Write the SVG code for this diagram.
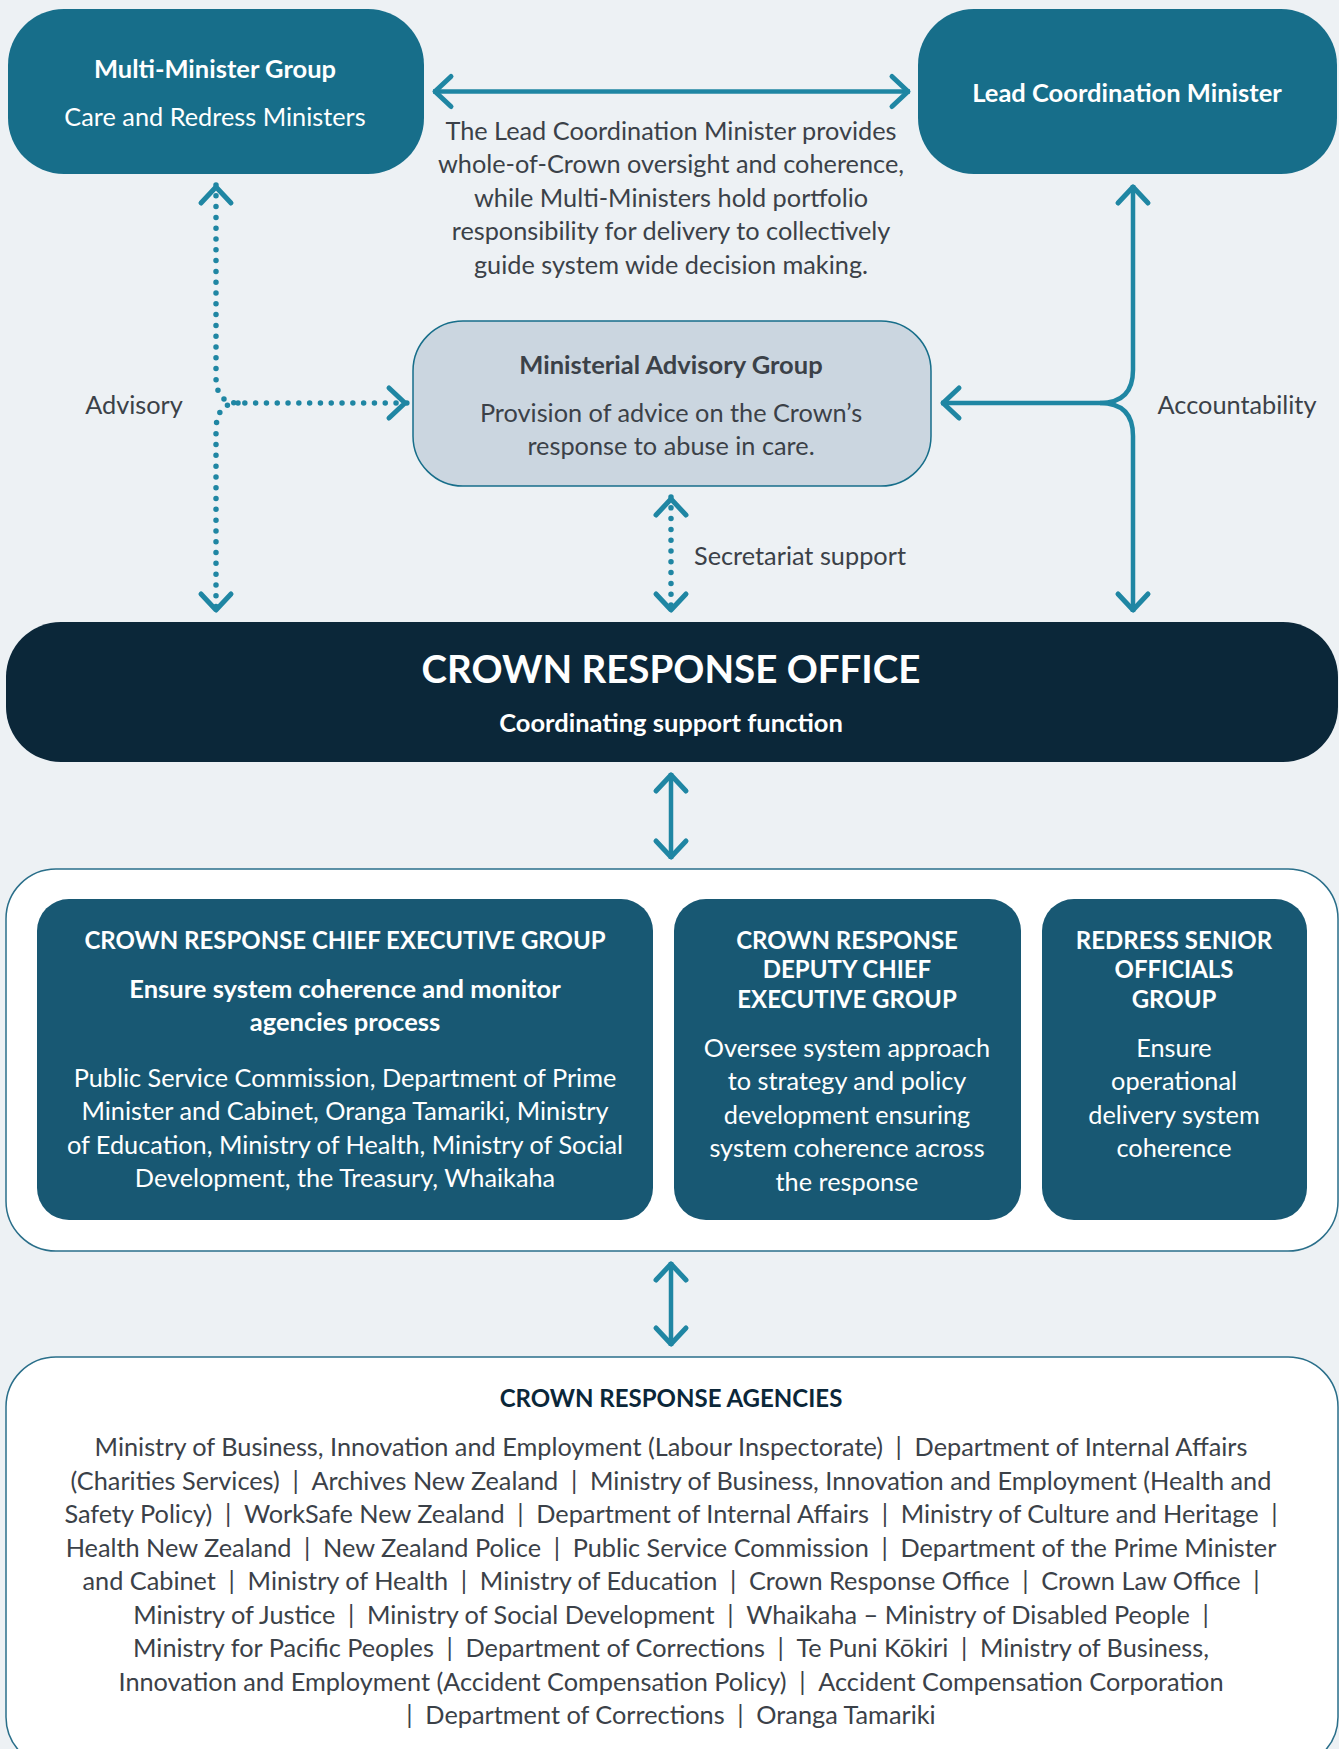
<svg xmlns="http://www.w3.org/2000/svg" width="1339" height="1749" viewBox="0 0 1339 1749">
<style>
text{font-family:Lato,"Source Sans Pro","Liberation Sans",sans-serif;text-anchor:middle}
.w{fill:#ffffff}
.b{font-weight:700}
.g{fill:#3B4148}
.body{font-size:25.3px}
.bt{font-size:25.5px;font-weight:700}
.head{font-size:24px;font-weight:700;fill:#ffffff}
.ln{fill:none;stroke:#1F86A3;stroke-width:4.5}
.dot{fill:none;stroke:#1F86A3;stroke-width:5.5;stroke-linecap:round;stroke-dasharray:0 10.8}
.teal{fill:#176E8A}
.inner{fill:#185873}
</style>
<defs>
<marker id="chev" viewBox="-24 -20 32 40" markerWidth="32" markerHeight="40" markerUnits="userSpaceOnUse" refX="2" refY="0" orient="auto-start-reverse">
<path d="M-16,-15 L0,0 L-16,15" fill="none" stroke="#1F86A3" stroke-width="5" stroke-linecap="round" stroke-linejoin="round"/>
</marker>
</defs>
<rect x="0" y="0" width="1339" height="1749" fill="#EDF1F4"/>

<g id="connectors">
<path class="ln" d="M433,91.5 H910" marker-start="url(#chev)" marker-end="url(#chev)"/>
<path class="dot" d="M216,185 V377 Q216,403 238,403 H407" marker-start="url(#chev)" marker-end="url(#chev)"/>
<path class="dot" d="M238,403 Q216,403 216,431 V612" marker-end="url(#chev)"/>
<path class="dot" d="M671,497 V612" marker-start="url(#chev)" marker-end="url(#chev)"/>
<path class="ln" d="M1133,185 V370 Q1133,403 1100,403 H941" marker-start="url(#chev)" marker-end="url(#chev)"/>
<path class="ln" d="M1100,403 Q1133,403 1133,436 V612" marker-end="url(#chev)"/>
<path class="ln" d="M671,773 V859" marker-start="url(#chev)" marker-end="url(#chev)"/>
<path class="ln" d="M671,1262 V1346" marker-start="url(#chev)" marker-end="url(#chev)"/>
<text class="g body" x="134" y="414">Advisory</text>
<text class="g body" x="1237" y="414">Accountability</text>
<text class="g body" x="694" y="565" style="text-anchor:start">Secretariat support</text>
</g>

<g id="multi-minister-group">
<rect class="teal" x="8" y="9" width="416" height="165" rx="56"/>
<text class="w bt" x="215" y="78">Multi-Minister Group</text>
<text class="w body" x="215" y="126">Care and Redress Ministers</text>
</g>

<g id="lead-coordination-minister">
<rect class="teal" x="918" y="9" width="419" height="165" rx="56"/>
<text class="w bt" x="1127" y="102">Lead Coordination Minister</text>
</g>

<g id="description">
<text class="g body" x="671" y="139.5">The Lead Coordination Minister provides</text>
<text class="g body" x="671" y="173">whole-of-Crown oversight and coherence,</text>
<text class="g body" x="671" y="206.5">while Multi-Ministers hold portfolio</text>
<text class="g body" x="671" y="240">responsibility for delivery to collectively</text>
<text class="g body" x="671" y="273.5">guide system wide decision making.</text>
</g>

<g id="ministerial-advisory-group">
<rect x="413" y="321" width="518" height="165" rx="50" fill="#CBD6E0" stroke="#176E8A" stroke-width="1.5"/>
<text class="g bt" x="671" y="374">Ministerial Advisory Group</text>
<text class="g body" x="671" y="422">Provision of advice on the Crown’s</text>
<text class="g body" x="671" y="455">response to abuse in care.</text>
</g>

<g id="crown-response-office">
<rect x="6" y="622" width="1332" height="140" rx="55" fill="#0B2739"/>
<text class="w b" x="671" y="683" font-size="38.5">CROWN RESPONSE OFFICE</text>
<text class="w b" x="671" y="732" font-size="25.5">Coordinating support function</text>
</g>

<g id="executive-groups">
<rect x="6" y="869" width="1332" height="382" rx="50" fill="#ffffff" stroke="#2A6F8A" stroke-width="1.5"/>
<g id="chief-executive-group">
<rect class="inner" x="37" y="899" width="616" height="321" rx="32"/>
<text class="head" x="345" y="949">CROWN RESPONSE CHIEF EXECUTIVE GROUP</text>
<text class="w bt" x="345" y="998">Ensure system coherence and monitor</text>
<text class="w bt" x="345" y="1031">agencies process</text>
<text class="w body" x="345" y="1087">Public Service Commission, Department of Prime</text>
<text class="w body" x="345" y="1120">Minister and Cabinet, Oranga Tamariki, Ministry</text>
<text class="w body" x="345" y="1154">of Education, Ministry of Health, Ministry of Social</text>
<text class="w body" x="345" y="1187">Development, the Treasury, Whaikaha</text>
</g>
<g id="deputy-chief-executive-group">
<rect class="inner" x="674" y="899" width="347" height="321" rx="32"/>
<text class="head" x="847" y="949">CROWN RESPONSE</text>
<text class="head" x="847" y="978">DEPUTY CHIEF</text>
<text class="head" x="847" y="1008">EXECUTIVE GROUP</text>
<text class="w body" x="847" y="1057">Oversee system approach</text>
<text class="w body" x="847" y="1090">to strategy and policy</text>
<text class="w body" x="847" y="1124">development ensuring</text>
<text class="w body" x="847" y="1157">system coherence across</text>
<text class="w body" x="847" y="1191">the response</text>
</g>
<g id="redress-senior-officials-group">
<rect class="inner" x="1042" y="899" width="265" height="321" rx="32"/>
<text class="head" x="1174" y="949">REDRESS SENIOR</text>
<text class="head" x="1174" y="978">OFFICIALS</text>
<text class="head" x="1174" y="1008">GROUP</text>
<text class="w body" x="1174" y="1057">Ensure</text>
<text class="w body" x="1174" y="1090">operational</text>
<text class="w body" x="1174" y="1124">delivery system</text>
<text class="w body" x="1174" y="1157">coherence</text>
</g>
</g>

<g id="crown-response-agencies">
<rect x="6" y="1357" width="1332" height="410" rx="50" fill="#ffffff" stroke="#2A6F8A" stroke-width="1.5"/>
<text class="b" x="671" y="1407" font-size="24" fill="#0B2739">CROWN RESPONSE AGENCIES</text>
<text class="g body" x="671" y="1456">Ministry of Business, Innovation and Employment (Labour Inspectorate)&#8194;|&#8194;Department of Internal Affairs</text>
<text class="g body" x="671" y="1490">(Charities Services)&#8194;|&#8194;Archives New Zealand&#8194;|&#8194;Ministry of Business, Innovation and Employment (Health and</text>
<text class="g body" x="671" y="1523">Safety Policy)&#8194;|&#8194;WorkSafe New Zealand&#8194;|&#8194;Department of Internal Affairs&#8194;|&#8194;Ministry of Culture and Heritage&#8194;|</text>
<text class="g body" x="671" y="1557">Health New Zealand&#8194;|&#8194;New Zealand Police&#8194;|&#8194;Public Service Commission&#8194;|&#8194;Department of the Prime Minister</text>
<text class="g body" x="671" y="1590">and Cabinet&#8194;|&#8194;Ministry of Health&#8194;|&#8194;Ministry of Education&#8194;|&#8194;Crown Response Office&#8194;|&#8194;Crown Law Office&#8194;|</text>
<text class="g body" x="671" y="1624">Ministry of Justice&#8194;|&#8194;Ministry of Social Development&#8194;|&#8194;Whaikaha – Ministry of Disabled People&#8194;|</text>
<text class="g body" x="671" y="1657">Ministry for Pacific Peoples&#8194;|&#8194;Department of Corrections&#8194;|&#8194;Te Puni Kōkiri&#8194;|&#8194;Ministry of Business,</text>
<text class="g body" x="671" y="1691">Innovation and Employment (Accident Compensation Policy)&#8194;|&#8194;Accident Compensation Corporation</text>
<text class="g body" x="671" y="1724">|&#8194;Department of Corrections&#8194;|&#8194;Oranga Tamariki</text>
</g>
</svg>
